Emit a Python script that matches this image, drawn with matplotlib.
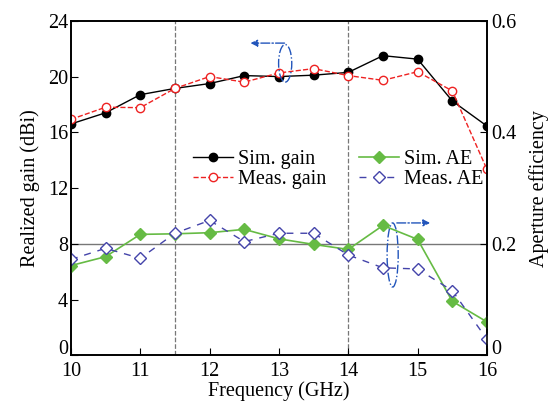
import matplotlib
matplotlib.use("Agg")
import matplotlib.pyplot as plt
import matplotlib.transforms as mtransforms
from matplotlib.patches import Ellipse

plt.rcParams['font.family'] = ['Liberation Serif', 'DejaVu Serif']
plt.rcParams['font.size'] = 14.5

# data
freq = [10, 10.5, 11, 11.5, 12, 12.5, 13, 13.5, 14, 14.5, 15, 15.5, 16]
sim_gain = [16.6, 17.4, 18.7, 19.15, 19.5, 20.07, 20.0, 20.1, 20.3, 21.5, 21.25, 18.25, 16.45]
meas_gain = [16.93, 17.8, 17.77, 19.15, 20.0, 19.6, 20.26, 20.57, 20.07, 19.73, 20.35, 18.97, 13.34]
sim_ae = [0.161, 0.177, 0.217, 0.218, 0.220, 0.226, 0.209, 0.199, 0.190, 0.233, 0.208, 0.097, 0.060]
meas_ae = [0.172, 0.192, 0.174, 0.219, 0.242, 0.204, 0.219, 0.219, 0.180, 0.157, 0.155, 0.116, 0.029]

fig = plt.figure(figsize=(5.54, 4.08), dpi=100)
ax = fig.add_axes([0.128, 0.129, 0.751, 0.82])
ax2 = ax.twinx()

# reference lines
ax.axvline(11.5, color='#777777', ls='--', lw=0.9, zorder=0)
ax.axvline(14, color='#777777', ls='--', lw=0.9, zorder=0)
ax.axhline(8, color='#777777', ls='-', lw=1.0, zorder=0)

l1, = ax.plot(freq, sim_gain, '-o', color='black', lw=1.0, ms=6, label='Sim. gain')
l2, = ax.plot(freq, meas_gain, '--o', color='#ee2222', lw=1.0, ms=6,
              mfc='white', mew=1.0, label='Meas. gain')
l3, = ax2.plot(freq, sim_ae, '-D', color='#66bb44', lw=1.2, ms=6, label='Sim. AE')
l4, = ax2.plot(freq, meas_ae, '--D', color='#4444aa', lw=1.0, ms=6,
               mfc='white', mew=1.0, dashes=(5, 5), label='Meas. AE')

ax.set_xlim(10, 16)
ax.set_ylim(0, 24)
ax2.set_ylim(0, 0.6)
ax.set_xticks(range(10, 17))
ax.set_yticks(range(0, 25, 4))
ax2.set_yticks([0, 0.2, 0.4, 0.6])
ax2.set_yticklabels(['0', '0.2', '0.4', '0.6'])
ax.tick_params(direction='in', length=5)
ax.tick_params(axis='y', pad=2)
ax.tick_params(axis='x', pad=5)
ax2.tick_params(direction='in', length=5, pad=3)
for a in (ax, ax2):
    for s in a.spines.values():
        s.set_linewidth(1.2)

# lift the two "0" labels a little so they clear the x tick labels
lift = mtransforms.ScaledTranslation(0, 6 / 72, fig.dpi_scale_trans)
for lab in (ax.get_yticklabels()[0], ax2.get_yticklabels()[0]):
    lab.set_transform(lab.get_transform() + lift)

ax.set_xlabel('Frequency (GHz)', labelpad=0)
ax.set_ylabel('Realized gain (dBi)', labelpad=6)
ax2.set_ylabel('Aperture efficiency', labelpad=9)

# annotation ellipses with arrows
blue = '#2255bb'
ax.add_patch(Ellipse((13.09, 20.95), 0.19, 2.7, fill=False, ec=blue, lw=1.0, ls='-.', zorder=5))
ax.annotate('', xy=(12.55, 22.4), xytext=(13.12, 22.4),
            arrowprops=dict(arrowstyle='-|>', color=blue, lw=1.0, ls='-.', mutation_scale=10))
ax.add_patch(Ellipse((14.64, 7.2), 0.16, 4.6, fill=False, ec=blue, lw=1.0, ls='-.', zorder=5))
ax.annotate('', xy=(15.22, 9.5), xytext=(14.66, 9.5),
            arrowprops=dict(arrowstyle='-|>', color=blue, lw=1.0, ls='-.', mutation_scale=10))

ax.legend([l1, l2, l3, l4], ['Sim. gain', 'Meas. gain', 'Sim. AE', 'Meas. AE'],
          ncol=2, frameon=False, loc='upper left', bbox_to_anchor=(0.293, 0.615),
          handlelength=2.0, handletextpad=0.25, columnspacing=1.6, labelspacing=0.08,
          borderaxespad=0, borderpad=0, fontsize=14.5)

fig.savefig('out.png', dpi=100)
